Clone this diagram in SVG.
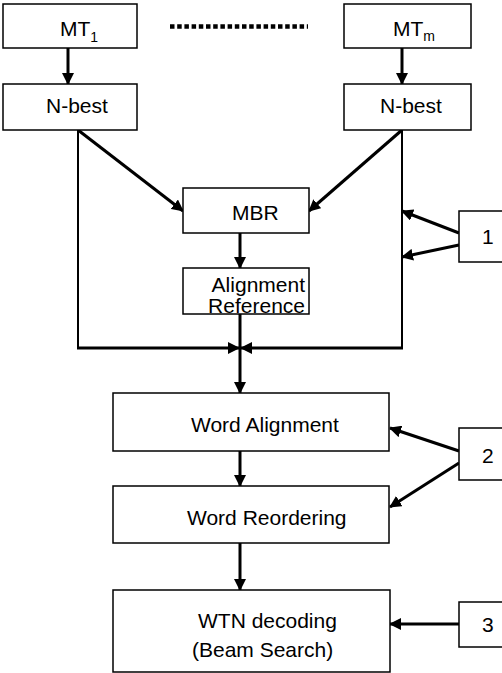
<svg xmlns="http://www.w3.org/2000/svg" width="502" height="673" viewBox="0 0 502 673">
<style>
.box{fill:#fff;stroke:#000;stroke-width:1.5}
.t{font-family:"Liberation Sans",Arial,sans-serif;font-size:21px;fill:#000}
.s{font-family:"Liberation Sans",Arial,sans-serif;font-size:14px;fill:#000}
.c{stroke:#000;stroke-width:3;fill:none}
.th{stroke:#000;stroke-width:2;fill:none}
</style>
<defs>
<marker id="ah" viewBox="0 0 12 12" refX="11" refY="6" markerWidth="12" markerHeight="12" markerUnits="userSpaceOnUse" orient="auto">
<path d="M0,0 L12,6 L0,12 z" fill="#000"/>
</marker>
</defs>
<rect width="502" height="673" fill="#fff"/>
<g id="connectors">
<line x1="170" y1="26.5" x2="308" y2="26.5" stroke="#000" stroke-width="4.5" stroke-dasharray="4.5 2.7"/>
<line class="c" x1="68" y1="48" x2="68" y2="84" marker-end="url(#ah)"/>
<line class="c" x1="402" y1="48" x2="402" y2="84" marker-end="url(#ah)"/>
<line class="th" x1="78" y1="130" x2="78" y2="349"/>
<line class="th" x1="402" y1="130" x2="402" y2="349"/>
<line class="c" x1="78" y1="130" x2="183" y2="211" marker-end="url(#ah)"/>
<line class="c" x1="402" y1="130" x2="309" y2="211" marker-end="url(#ah)"/>
<line class="c" x1="240" y1="233" x2="240" y2="268" marker-end="url(#ah)"/>
<line class="c" x1="77" y1="348" x2="239" y2="348" marker-end="url(#ah)"/>
<line class="c" x1="403" y1="348" x2="241" y2="348" marker-end="url(#ah)"/>
<line class="c" x1="240" y1="314" x2="240" y2="393" marker-end="url(#ah)"/>
<line class="c" x1="459" y1="233" x2="402" y2="211" marker-end="url(#ah)"/>
<line class="c" x1="459" y1="245" x2="402" y2="257" marker-end="url(#ah)"/>
<line class="c" x1="240" y1="451" x2="240" y2="486" marker-end="url(#ah)"/>
<line class="c" x1="459" y1="451" x2="390" y2="428" marker-end="url(#ah)"/>
<line class="c" x1="459" y1="463" x2="390" y2="507" marker-end="url(#ah)"/>
<line class="c" x1="240" y1="543" x2="240" y2="590" marker-end="url(#ah)"/>
<line class="c" x1="459" y1="624" x2="390" y2="624" marker-end="url(#ah)"/>
</g>
<g id="mt1"><rect class="box" x="3" y="4" width="134" height="44"/><text class="t" x="60" y="36">MT<tspan class="s" font-size="14" y="42">1</tspan></text></g>
<g id="mtm"><rect class="box" x="344" y="4" width="127" height="44"/><text class="t" x="393" y="36">MT<tspan class="s" font-size="14" y="41">m</tspan></text></g>
<g id="nbest1"><rect class="box" x="3" y="84" width="134" height="46"/><text class="t" x="46" y="113">N-best</text></g>
<g id="nbestm"><rect class="box" x="344" y="84" width="127" height="46"/><text class="t" x="380" y="113">N-best</text></g>
<g id="mbr"><rect class="box" x="183" y="188" width="126" height="45"/><text class="t" x="232" y="220">MBR</text></g>
<g id="alignref"><rect class="box" x="183" y="268" width="126" height="46"/><text class="t" x="305" y="292" text-anchor="end">Alignment</text><text class="t" x="305" y="313" text-anchor="end">Reference</text></g>
<g id="wordalign"><rect class="box" x="113" y="393" width="276" height="58"/><text class="t" x="191" y="432">Word Alignment</text></g>
<g id="wordreorder"><rect class="box" x="113" y="486" width="276" height="57"/><text class="t" x="187" y="525">Word Reordering</text></g>
<g id="wtn"><rect class="box" x="113" y="590" width="277" height="82"/><text class="t" x="198" y="628">WTN decoding</text><text class="t" x="192" y="657">(Beam Search)</text></g>
<g id="n1"><rect class="box" x="459" y="211" width="45" height="51"/><text class="t" x="482" y="244">1</text></g>
<g id="n2"><rect class="box" x="459" y="428" width="45" height="52"/><text class="t" x="482" y="463">2</text></g>
<g id="n3"><rect class="box" x="459" y="602" width="45" height="45"/><text class="t" x="482" y="632">3</text></g>
</svg>
